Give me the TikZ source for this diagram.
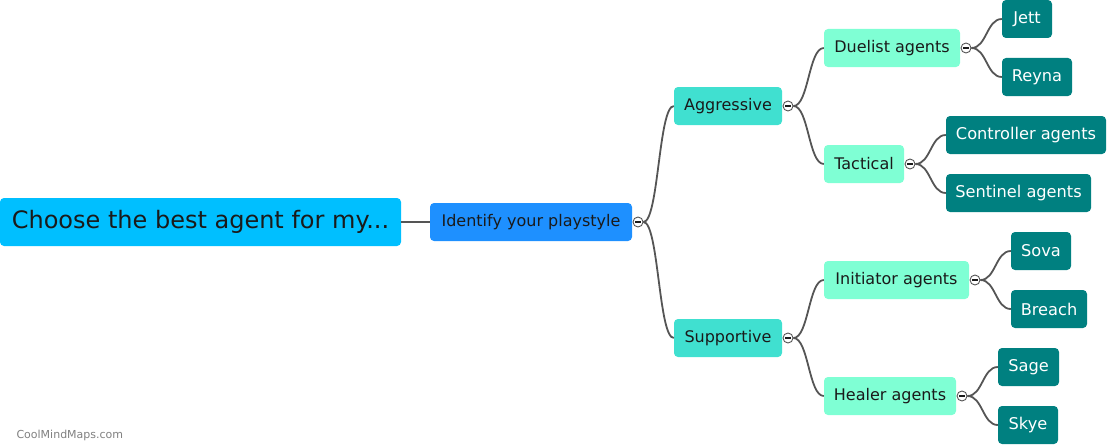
\documentclass[tikz,border=0pt]{standalone}
\usepackage{fontspec}
\setmainfont{DejaVu Sans}
\usetikzlibrary{calc}
\definecolor{c0}{HTML}{00BFFF}
\definecolor{c1}{HTML}{1E90FF}
\definecolor{c2}{HTML}{40E0D0}
\definecolor{c3}{HTML}{7FFFD4}
\definecolor{c4}{HTML}{008080}
\definecolor{lnk}{HTML}{555555}
\definecolor{txt}{HTML}{1A1A1A}
\tikzset{
  box/.style={rounded corners=4pt, inner sep=0pt, text=txt},
  rootbox/.style={box, fill=c0, minimum height=48, font=\fontsize{24}{28}\selectfont},
  l1box/.style={box, fill=c1, minimum height=38, font=\fontsize{16}{19}\selectfont},
  l2box/.style={box, fill=c2, minimum height=38, font=\fontsize{16}{19}\selectfont},
  l3box/.style={box, fill=c3, minimum height=38, font=\fontsize{16}{19}\selectfont},
  leafbox/.style={box, fill=c4, minimum height=38, text=white, font=\fontsize{16.2}{19}\selectfont},
  tog/.style={circle, draw=lnk, fill=white, line width=0.9pt, minimum size=10, inner sep=0pt,
    path picture={\draw[line width=1.4pt, txt] ([xshift=-3pt]path picture bounding box.center) -- ([xshift=3pt]path picture bounding box.center);}},
  link/.style={draw=lnk, line width=1.8pt},
  wmark/.style={text=gray, font=\fontsize{11}{13}\selectfont}
}
\newcommand{\conn}[2]{\draw[link] let \p1=(#1.east), \p2=(#2.west) in (\p1) .. controls ({(\x1+\x2)/2},\y1) and ({(\x1+\x2)/2},\y2) .. (\p2);}
\begin{document}
\begin{tikzpicture}[x=1pt,y=-1pt]
\useasboundingbox (0,0) rectangle (1118,444);
% nodes
\node[rootbox, minimum width=401] (r) at (200.5,222) {Choose the best agent for my...};
\node[l1box, minimum width=202] (id) at (531,222) {Identify your playstyle};
\node[l2box, minimum width=108] (ag) at (728,106) {Aggressive};
\node[l2box, minimum width=108] (su) at (728,338) {Supportive};
\node[l3box, minimum width=136] (du) at (892,48) {Duelist agents};
\node[l3box, minimum width=80] (ta) at (864,164) {Tactical};
\node[l3box, minimum width=145] (in) at (896.5,280) {Initiator agents};
\node[l3box, minimum width=132] (he) at (890,396) {Healer agents};
\node[leafbox, minimum width=50] (je) at (1027,19) {Jett};
\node[leafbox, minimum width=70] (re) at (1037,77) {Reyna};
\node[leafbox, minimum width=160] (co) at (1026,135) {Controller agents};
\node[leafbox, minimum width=145] (se) at (1018.5,193) {Sentinel agents};
\node[leafbox, minimum width=60] (so) at (1041,251) {Sova};
\node[leafbox, minimum width=76] (br) at (1049,309) {Breach};
\node[leafbox, minimum width=61] (sa) at (1028.5,367) {Sage};
\node[leafbox, minimum width=60] (sk) at (1028,425) {Skye};
% toggles
\node[tog] (tid) at (638,222) {};
\node[tog] (tag) at (788,106) {};
\node[tog] (tsu) at (788,338) {};
\node[tog] (tdu) at (966,48) {};
\node[tog] (tta) at (910,164) {};
\node[tog] (tin) at (975,280) {};
\node[tog] (the) at (962,396) {};
% connectors
\draw[link] (r.east) -- (id.west);
\conn{tid}{ag}
\conn{tid}{su}
\conn{tag}{du}
\conn{tag}{ta}
\conn{tsu}{in}
\conn{tsu}{he}
\conn{tdu}{je}
\conn{tdu}{re}
\conn{tta}{co}
\conn{tta}{se}
\conn{tin}{so}
\conn{tin}{br}
\conn{the}{sa}
\conn{the}{sk}
\node[wmark, anchor=west] (wm) at (13,435) {CoolMindMaps.com};
\end{tikzpicture}
\end{document}
